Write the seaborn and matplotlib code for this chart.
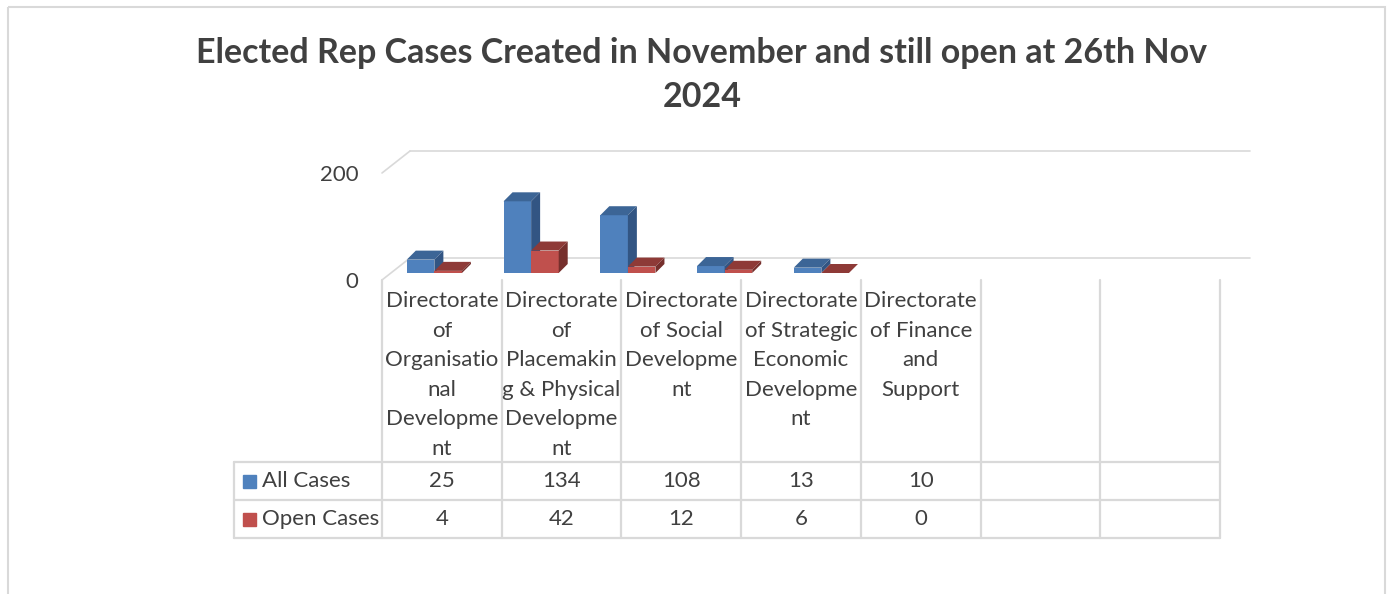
import numpy as np
import pandas as pd
import seaborn as sns
from matplotlib import pyplot as plt
from matplotlib.patches import Polygon, Rectangle

# data
categories = ["Directorate of Organisational Development",
              "Directorate of Placemaking & Physical Development",
              "Directorate of Social Development",
              "Directorate of Strategic Economic Development",
              "Directorate of Finance and Support"]
# wrapped the way the chart's data table shows them
cat_labels = ["Directorate\nof\nOrganisatio\nnal\nDevelopme\nnt",
              "Directorate\nof\nPlacemakin\ng & Physical\nDevelopme\nnt",
              "Directorate\nof Social\nDevelopme\nnt",
              "Directorate\nof Strategic\nEconomic\nDevelopme\nnt",
              "Directorate\nof Finance\nand\nSupport"]
series = ["All Cases", "Open Cases"]
all_cases = [25, 134, 108, 13, 10]
open_cases = [4, 42, 12, 6, 0]
yticks = [0, 200]
n_cols = 7  # the table keeps two empty category columns

title = "Elected Rep Cases Created in November and still open at 26th Nov\n2024"

colors = ["#4f81bd", "#c0504d"]
tops = ["#3c6596", "#8e3a37"]
sides = ["#325583", "#762f2c"]
grid_c = "#d9d9d9"
text_c = "#404040"

df = pd.DataFrame({
    "cat": categories * 2,
    "series": [series[0]] * 5 + [series[1]] * 5,
    "value": all_cases + open_cases,
})

W, H = 1391, 594
sns.set_style("white")
plt.rcParams["font.family"] = ["Lato", "DejaVu Sans"]

fig = plt.figure(figsize=(W / 100, H / 100), dpi=100)

# background axes in pixel coords for the frame, title and data table
bg = fig.add_axes([0, 0, 1, 1])
bg.set_xlim(0, W)
bg.set_ylim(H, 0)
bg.axis("off")
bg.add_patch(Rectangle((8, 7), 1377, 600, fill=False, ec=grid_c, lw=1.5, clip_on=False))
bg.text(702, 75, title, ha="center", va="center", fontsize=24.5, fontweight="bold",
        color=text_c, linespacing=1.48)

# table
col_x = np.linspace(382, 1220, n_cols + 1)
leg_x = 234
row_y = [280, 462, 500, 538]
for x in col_x:
    bg.plot([x, x], [row_y[0], row_y[-1]], color=grid_c, lw=1.6)
bg.plot([leg_x, leg_x], [row_y[1], row_y[-1]], color=grid_c, lw=1.6)
for y in row_y[1:]:
    bg.plot([leg_x, col_x[-1]], [y, y], color=grid_c, lw=1.6)

centers = (col_x[:-1] + col_x[1:]) / 2
for i, lab in enumerate(cat_labels):
    bg.text(centers[i], 291, lab, ha="center", va="top", fontsize=16,
            color=text_c, linespacing=1.6)
for r, (name, vals) in enumerate(zip(series, [all_cases, open_cases])):
    yc = (row_y[r + 1] + row_y[r + 2]) / 2
    bg.add_patch(Rectangle((243, yc - 6.5), 13, 13, color=colors[r]))
    bg.text(262, yc, name, ha="left", va="center", fontsize=16, color=text_c)
    for i, v in enumerate(vals):
        bg.text(centers[i], yc, str(v), ha="center", va="center", fontsize=16, color=text_c)

# bar axes: value 0 sits on the front floor edge (pixel y 280)
px_y = 0.535          # pixels per unit
x0_px, step_px = 386, 96.75
ax = fig.add_axes([x0_px / W, (H - 280) / H, step_px * 7 / W, 140 / H])
ax.patch.set_alpha(0)

sns.barplot(data=df, x="cat", y="value", hue="series", palette=colors,
            width=0.57, saturation=1, legend=False, linewidth=0, ax=ax)
ax.set_xlim(-0.5, 6.5)
ax.set_ylim(0, 140 / px_y)

base = 7 / px_y                 # bars stand a little behind the floor edge
dx, dy = 9 / step_px, 9 / px_y  # bar depth
for k, p in enumerate(ax.patches):
    s = 0 if k < 5 else 1
    p.set_y(p.get_y() + base)
    p.set_zorder(2 + s)
    p.set_linewidth(0)
    x0, w = p.get_x(), p.get_width()
    y0, y1 = p.get_y(), p.get_y() + p.get_height()
    ax.add_patch(Polygon([(x0, y1), (x0 + dx, y1 + dy), (x0 + w + dx, y1 + dy), (x0 + w, y1)],
                         closed=True, color=tops[s], zorder=2 + s, lw=0))
    ax.add_patch(Polygon([(x0 + w, y0), (x0 + w + dx, y0 + dy), (x0 + w + dx, y1 + dy), (x0 + w, y1)],
                         closed=True, color=sides[s], zorder=2 + s, lw=0))

# back wall gridlines and left floor/side edges
fx = (382 - x0_px) / step_px - 0.5
bx = fx + 28 / step_px
ex = (1250 - x0_px) / step_px - 0.5
dback = 22 / px_y
for t in yticks:
    ax.plot([bx, ex], [t + dback, t + dback], color=grid_c, lw=1.2, zorder=1, clip_on=False)
    ax.plot([fx, bx], [t, t + dback], color=grid_c, lw=1.2, zorder=1, clip_on=False)

ax.set_yticks(yticks)
ax.set_yticklabels([str(t) for t in yticks], fontsize=16, color=text_c)
ax.tick_params(axis="y", length=0, pad=20)
ax.set_xticks([])
ax.set_xlabel("")
ax.set_ylabel("")
sns.despine(ax=ax, left=True, bottom=True)

fig.savefig("out.png", dpi=100)
